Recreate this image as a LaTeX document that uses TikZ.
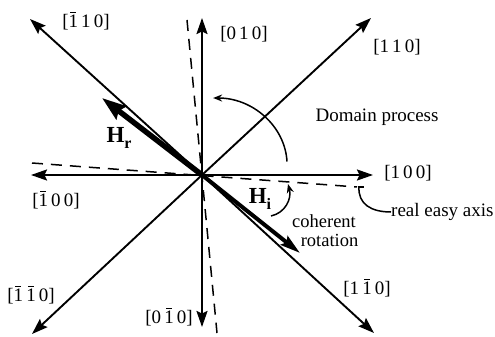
\documentclass[tikz,border=0pt]{standalone}
\usepackage{fontspec}
\setmainfont{Liberation Serif}
\usetikzlibrary{arrows.meta}
\newcommand{\ovl}[1]{\leavevmode\rlap{\hspace{0.1em}\rule[0.78em]{0.3em}{0.07em}}#1}
\begin{document}
\begin{tikzpicture}[x=1pt,y=-1pt,
  axis/.style={line width=1.9pt,-{Stealth[length=16pt,width=11pt,inset=2.5pt]}},
  easy/.style={line width=1.5pt,dash pattern=on 11pt off 8pt},
  lab/.style={font=\fontsize{19}{17}\selectfont,inner sep=0pt},
  hlab/.style={font=\fontsize{23}{23}\selectfont\bfseries,inner sep=0pt},
  fieldr/.style={line width=5.5pt,-{Stealth[length=24pt,width=16pt,inset=3pt]}},
  fieldi/.style={line width=4pt,-{Stealth[length=20pt,width=11pt,inset=3pt]}},
  curv/.style={line width=1.5pt},
  curvarr/.style={line width=1.5pt,-{Stealth[length=9pt,width=7pt]}}]
\useasboundingbox (0,0) rectangle (495,337);
\coordinate (O) at (202,175);
% tips
\coordinate (t010) at (202,18);
\coordinate (t0m10) at (202,327);
\coordinate (t100) at (373,175);
\coordinate (tm100) at (31,175);
\coordinate (t110) at (371,18);
\coordinate (tm110) at (30,19);
\coordinate (tm1m10) at (32,334);
\coordinate (t1m10) at (374,333);
% dashed real easy axes
\coordinate (ev1) at (187,20);
\coordinate (ev2) at (217,333);
\coordinate (eh1) at (32,163);
\coordinate (eh2) at (357,187);
\draw[easy] (ev1) -- (ev2);
\draw[easy] (eh1) -- (eh2);
% axes
\draw[axis] (O) -- (t010);
\draw[axis] (O) -- (t0m10);
\draw[axis] (O) -- (t100);
\draw[axis] (O) -- (tm100);
\draw[axis] (O) -- (t110);
\draw[axis] (O) -- (tm110);
\draw[axis] (O) -- (tm1m10);
\draw[axis] (O) -- (t1m10);
% fields
\coordinate (Hr) at (102,98);
\coordinate (Hi) at (300,253);
\draw[fieldr] (O) -- (Hr);
\draw[fieldi] (O) -- (Hi);
% labels
\node[lab] (l010) at (244,34) {[0\,1\,0]};
\node[lab] (l110) at (397,47) {[1\,1\,0]};
\node[lab] (lm110) at (86,21) {[\ovl{1}\,1\,0]};
\node[lab] (lm100) at (56,200) {[\ovl{1}\,0\,0]};
\node[lab] (l100) at (408,173) {[1\,0\,0]};
\node[lab] (lm1m10) at (31,295) {[\ovl{1}\,\ovl{1}\,0]};
\node[lab] (l0m10) at (169,317) {[0\,\ovl{1}\,0]};
\node[lab] (l1m10) at (367,288) {[1\,\ovl{1}\,0]};
\node[hlab] (lHr) at (119,138) {H\raisebox{-0.3em}{\fontsize{16}{16}\selectfont r}};
\node[hlab] (lHi) at (260,199) {H\raisebox{-0.3em}{\fontsize{16}{16}\selectfont i}};
\node[lab] (ldom) at (377,117) {Domain process};
\node[lab,align=center,font=\fontsize{18.5}{19}\selectfont] (lcoh) at (324,231) {coherent\\\hspace*{0.6em}rotation};
\node[lab,anchor=west] (lreal) at (391,212) {real easy axis};
% domain process arc
\coordinate (da) at (287,161.5);
\draw[curvarr] (da) arc[start angle=-3,end angle=-90,x radius=74,y radius=67];
% coherent rotation small arrow
\coordinate (ca) at (271,216);
\coordinate (cb) at (288,184);
\draw[curvarr] (ca) .. controls (285,213) and (292,199) .. (cb);
% real easy axis callout
\coordinate (ra) at (358,187);
\coordinate (rb) at (364,187);
\coordinate (rc) at (359,187);
\draw[curv] (ra) -- (rb);
\draw[curv] (rc) .. controls (358,204) and (371,212) .. (lreal.west);
\end{tikzpicture}
\end{document}
